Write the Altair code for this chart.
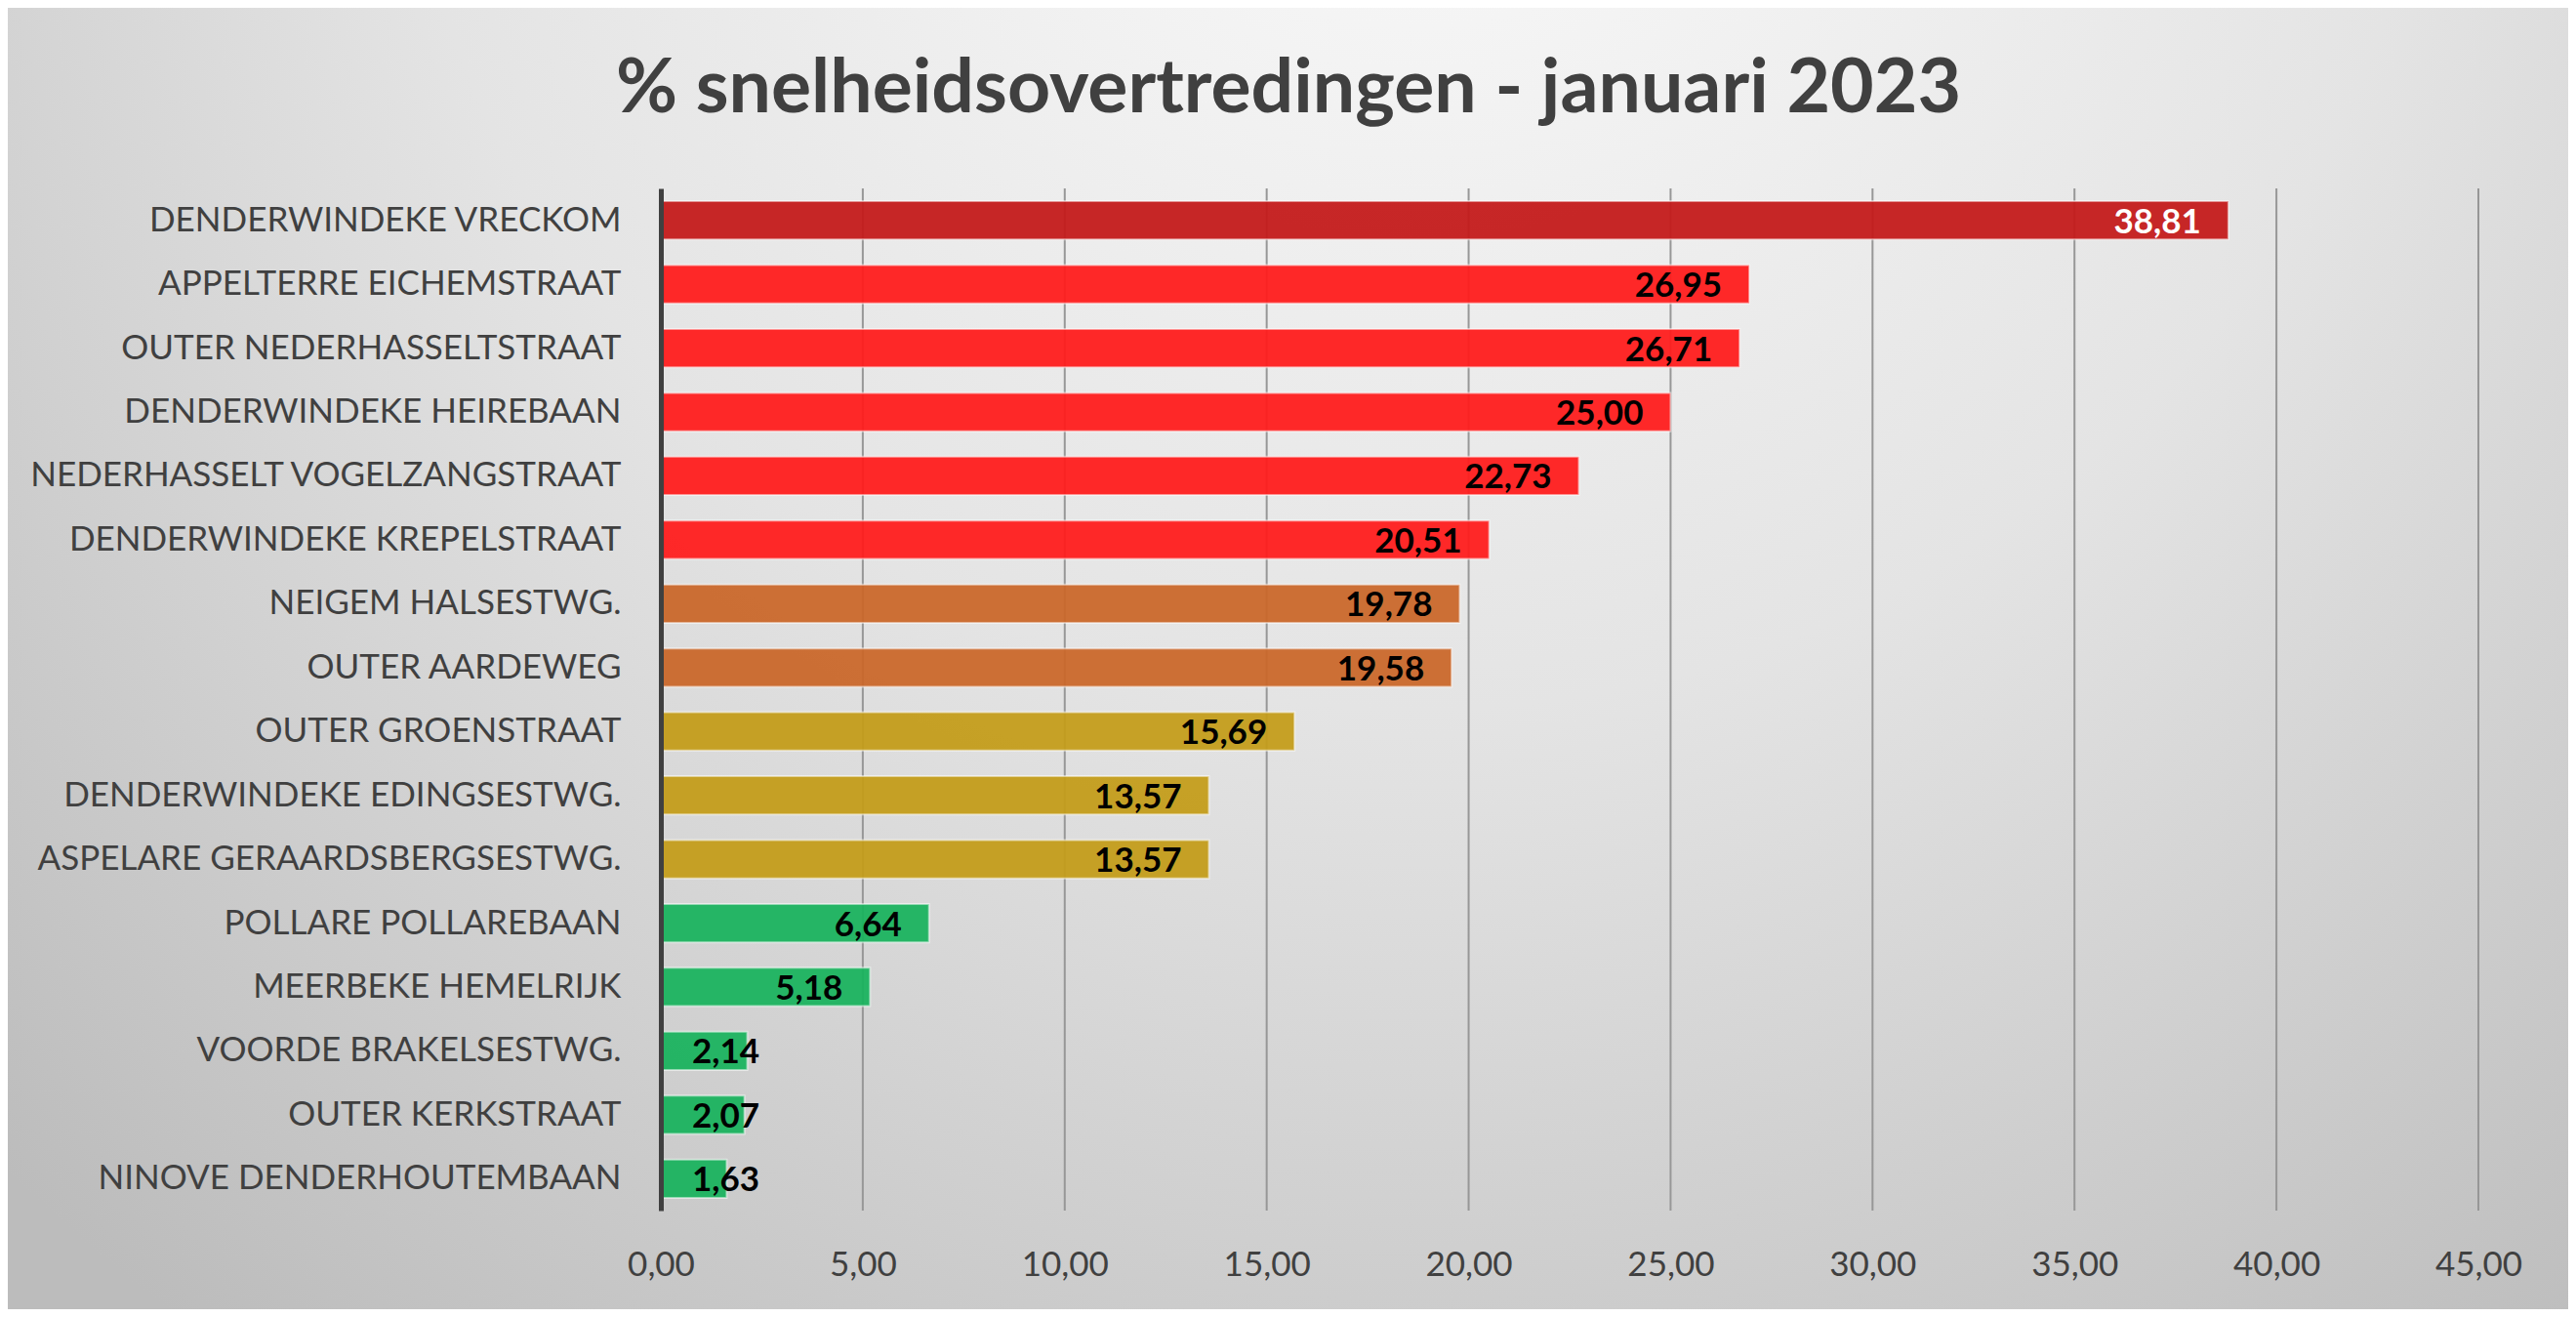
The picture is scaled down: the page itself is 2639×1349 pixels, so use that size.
import altair as alt
import pandas as pd

locations = [
    "DENDERWINDEKE VRECKOM", "APPELTERRE EICHEMSTRAAT", "OUTER NEDERHASSELTSTRAAT",
    "DENDERWINDEKE HEIREBAAN", "NEDERHASSELT VOGELZANGSTRAAT", "DENDERWINDEKE KREPELSTRAAT",
    "NEIGEM HALSESTWG.", "OUTER AARDEWEG", "OUTER GROENSTRAAT",
    "DENDERWINDEKE EDINGSESTWG.", "ASPELARE GERAARDSBERGSESTWG.", "POLLARE POLLAREBAAN",
    "MEERBEKE HEMELRIJK", "VOORDE BRAKELSESTWG.", "OUTER KERKSTRAAT", "NINOVE DENDERHOUTEMBAAN",
]
values = [38.81, 26.95, 26.71, 25.00, 22.73, 20.51, 19.78, 19.58, 15.69, 13.57, 13.57,
          6.64, 5.18, 2.14, 2.07, 1.63]
levels = ["1", "2", "2", "2", "2", "2", "3", "3", "4", "4", "4", "5", "5", "5", "5", "5"]
level_names = ["1", "2", "3", "4", "5"]
level_colors = ["#C41919", "#FF1C1C", "#CA6729", "#C39C19", "#19B25E"]
x_ticks = [0, 5, 10, 15, 20, 25, 30, 35, 40, 45]

df = pd.DataFrame({"loc": locations, "v": values, "lvl": levels})
grid_df = pd.DataFrame({"t": x_ticks[1:]})

FONT = "Lato"
GREY = "#404040"

xscale = alt.Scale(domain=[0, 45], nice=False)

bg = alt.Chart(alt.Data(values=[{}])).mark_rect(
    fill=alt.RadialGradient(
        gradient="radial",
        x1=0.55, y1=0.12, r1=0.0,
        x2=0.55, y2=0.12, r2=0.8,
        stops=[
            alt.GradientStop(offset=0.0, color="#fcfcfc"),
            alt.GradientStop(offset=0.5, color="#e4e4e4"),
            alt.GradientStop(offset=1.0, color="#bcbcbc"),
        ],
    )
).encode(
    x=alt.value(-669), x2=alt.value(1954), y=alt.value(-185), y2=alt.value(1148)
)

grid = alt.Chart(grid_df).mark_rule(color="#979797", strokeWidth=2).encode(
    x=alt.X("t:Q", scale=xscale)
)

base = alt.Chart(df)

ysc = alt.Y(
    "loc:N", sort=None, title=None,
    scale=alt.Scale(paddingInner=0.4, paddingOuter=0.2),
    axis=alt.Axis(
        domain=True, domainColor=GREY, domainWidth=5, ticks=False, tickSize=0,
        grid=False, labelFont=FONT, labelFontSize=35, labelColor=GREY,
        labelPadding=41, labelLimit=0, zindex=1,
    ),
)

bars = base.mark_bar(fillOpacity=0.94, stroke="#ffffff", strokeWidth=2, strokeOpacity=0.5).encode(
    x=alt.X(
        "v:Q", title=None,
        scale=xscale,
        axis=alt.Axis(
            values=x_ticks, domain=False, ticks=False, tickSize=0, grid=False,
            labelFont=FONT, labelFontSize=35, labelColor=GREY, labelPadding=38,
            labelFlush=False,
            labelExpr="replace(format(datum.value, '.2f'), '.', ',')", zindex=1,
        ),
    ),
    y=ysc,
    color=alt.Color("lvl:N", scale=alt.Scale(domain=level_names, range=level_colors), legend=None),
)

labels = base.transform_calculate(
    lx="max(datum.v, 3.12)",
    txt="replace(format(datum.v, '.2f'), '.', ',')",
).mark_text(
    align="right", baseline="middle", dx=-28, dy=2, font=FONT, fontWeight="bold", fontSize=35
).encode(
    x=alt.X("lx:Q"),
    y=alt.Y("loc:N", sort=None),
    text="txt:N",
    color=alt.condition("datum.lvl == '1'", alt.value("#ffffff"), alt.value("#000000")),
)

chart = alt.layer(bg, grid, bars, labels).properties(
    width=1862,
    height=1047,
    autosize=alt.AutoSizeParams(type="none"),
    padding={"left": 669, "top": 185, "right": 92, "bottom": 101},
    title=alt.TitleParams(
        "% snelheidsovertredingen - januari 2023",
        font=FONT, fontSize=77, fontWeight="bold", color=GREY,
        anchor="middle", frame="group", dx=-288, offset=-184, baseline="alphabetic",
    ),
).configure(background="#d6d6d6").configure_view(stroke=None)

chart.save("out.html", embed_options={"renderer": "svg", "actions": False})
